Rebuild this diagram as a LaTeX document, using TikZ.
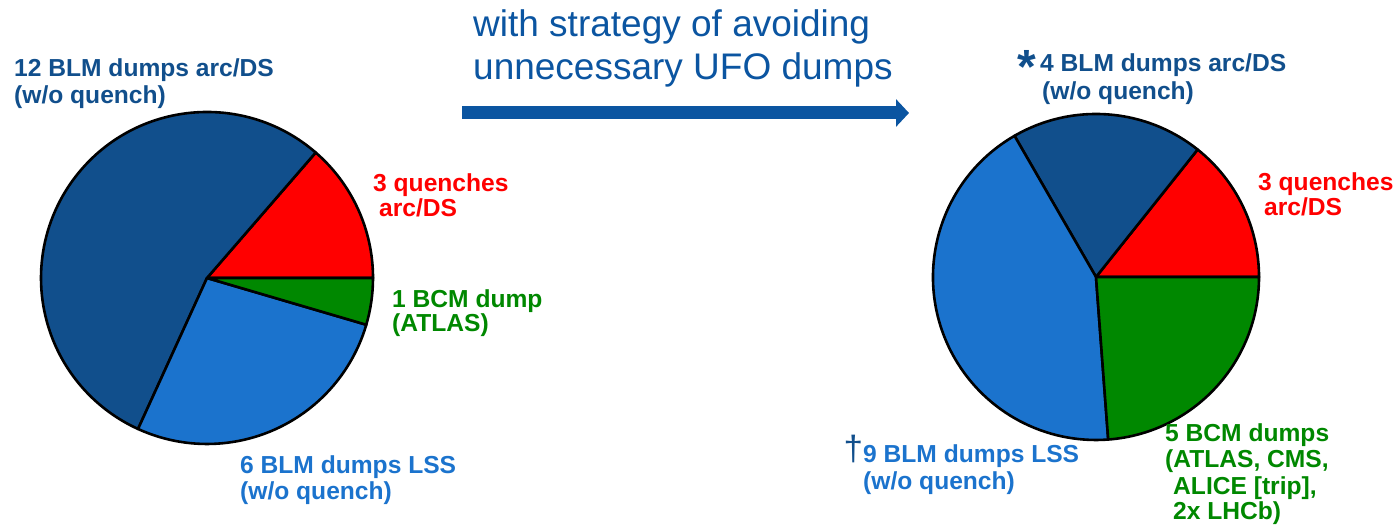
\documentclass[tikz,border=0pt]{standalone}
\usepackage{fontspec}
\setmainfont{Liberation Sans}
\usetikzlibrary{arrows.meta}
\definecolor{dkblue}{RGB}{17,79,140}
\definecolor{ltblue}{RGB}{27,115,205}
\definecolor{pgreen}{RGB}{0,136,0}
\definecolor{pred}{RGB}{255,0,0}
\definecolor{ttlblue}{RGB}{11,85,161}
\tikzset{
  slice/.style={draw=black,line width=2.6pt,line join=round},
  lbl/.style={anchor=base west,inner sep=0pt,font=\fontsize{24.6}{27}\selectfont\bfseries},
  ttl/.style={anchor=base west,inner sep=0pt,text=ttlblue,font=\fontsize{37}{43}\selectfont},
}
\begin{document}
\begin{tikzpicture}[x=1pt,y=1pt]
\useasboundingbox (0,0) rectangle (1396,526);
% left pie
\coordinate (lc) at (207,248);
\def\rl{166}
\filldraw[slice,fill=pred] (lc) -- ++(0:\rl) arc[start angle=0,end angle=49.09,radius=\rl] -- cycle;
\filldraw[slice,fill=dkblue] (lc) -- ++(49.09:\rl) arc[start angle=49.09,end angle=245.45,radius=\rl] -- cycle;
\filldraw[slice,fill=ltblue] (lc) -- ++(245.45:\rl) arc[start angle=245.45,end angle=343.64,radius=\rl] -- cycle;
\filldraw[slice,fill=pgreen] (lc) -- ++(343.64:\rl) arc[start angle=343.64,end angle=360,radius=\rl] -- cycle;
% right pie
\coordinate (rc) at (1096,249);
\def\rr{163}
\filldraw[slice,fill=pred] (rc) -- ++(0:\rr) arc[start angle=0,end angle=51.43,radius=\rr] -- cycle;
\filldraw[slice,fill=dkblue] (rc) -- ++(51.43:\rr) arc[start angle=51.43,end angle=120,radius=\rr] -- cycle;
\filldraw[slice,fill=ltblue] (rc) -- ++(120:\rr) arc[start angle=120,end angle=274.29,radius=\rr] -- cycle;
\filldraw[slice,fill=pgreen] (rc) -- ++(274.29:\rr) arc[start angle=274.29,end angle=360,radius=\rr] -- cycle;
% title and arrow
\node[ttl] (t1) at (473,489) {with strategy of avoiding};
\node[ttl] (t2) at (473,446) {unnecessary UFO dumps};
\coordinate (as) at (462,413);
\coordinate (ae) at (909,413);
\draw[ttlblue,line width=13pt,-{Triangle[length=13pt,width=27pt]}] (as) -- (ae);
% left labels
\node[lbl,text=dkblue] (l1a) at (14,449) {12 BLM dumps arc/DS};
\node[lbl,text=dkblue] (l1b) at (14,422) {(w/o quench)};
\node[lbl,text=pred] (l2a) at (373,334) {3 quenches};
\node[lbl,text=pred] (l2b) at (379,309) {arc/DS};
\node[lbl,text=pgreen] (l3a) at (392,218) {1 BCM dump};
\node[lbl,text=pgreen] (l3b) at (392,194) {(ATLAS)};
\node[lbl,text=ltblue] (l4a) at (240,52) {6 BLM dumps LSS};
\node[lbl,text=ltblue] (l4b) at (240,26) {(w/o quench)};
% right labels
\node[anchor=base west,inner sep=0pt,text=dkblue,font=\fontsize{48}{48}\selectfont\bfseries] (ast) at (1017.5,442) {*};
\node[lbl,text=dkblue] (r1a) at (1040,454) {4 BLM dumps arc/DS};
\node[lbl,text=dkblue] (r1b) at (1042,426) {(w/o quench)};
\node[lbl,text=pred] (r2a) at (1258,335) {3 quenches};
\node[lbl,text=pred] (r2b) at (1264,310) {arc/DS};
\node[anchor=base west,inner sep=0pt,text=dkblue,font=\fontsize{35}{35}\selectfont] (dag) at (843.5,65.5) {†};
\node[lbl,text=ltblue] (r3a) at (863,63) {9 BLM dumps LSS};
\node[lbl,text=ltblue] (r3b) at (863,36) {(w/o quench)};
\node[lbl,text=pgreen] (r4a) at (1165,84) {5 BCM dumps};
\node[lbl,text=pgreen] (r4b) at (1165,58) {(ATLAS, CMS,};
\node[lbl,text=pgreen] (r4c) at (1173,31) {ALICE [trip],};
\node[lbl,text=pgreen] (r4d) at (1173,6) {2x LHCb)};
\end{tikzpicture}
\end{document}
